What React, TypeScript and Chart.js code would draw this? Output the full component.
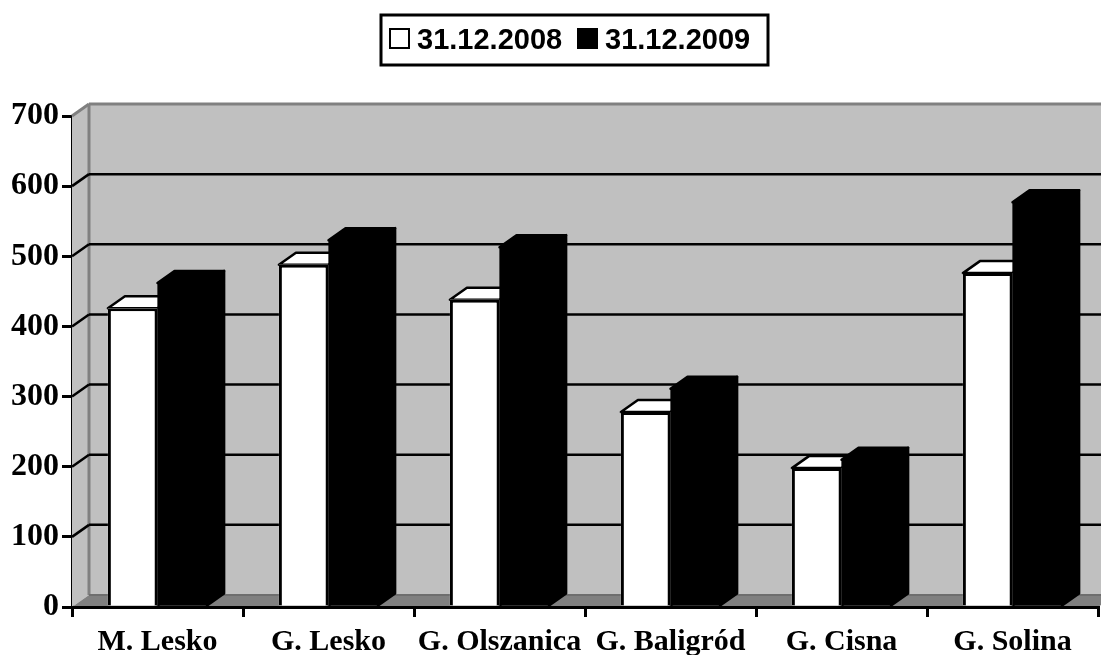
import React, { useEffect, useRef } from "react";
import { Chart, registerables } from "chart.js";

Chart.register(...registerables);

const categories = ["M. Lesko", "G. Lesko", "G. Olszanica", "G. Baligród", "G. Cisna", "G. Solina"];
const series2008 = [426, 488, 438, 278, 198, 476];
const series2009 = [462, 523, 513, 311, 210, 577];
const seriesNames = ["31.12.2008", "31.12.2009"];
const yTicks = [0, 100, 200, 300, 400, 500, 600, 700];

const DX = 17;
const DY = -12;
const WALL = "#C0C0C0";
const DARK = "#808080";

function poly(ctx: CanvasRenderingContext2D, pts: number[][], fill: string | null, stroke: string | null, lw = 3) {
  ctx.beginPath();
  pts.forEach((p, i) => (i ? ctx.lineTo(p[0], p[1]) : ctx.moveTo(p[0], p[1])));
  ctx.closePath();
  if (fill) {
    ctx.fillStyle = fill;
    ctx.fill();
  }
  if (stroke) {
    ctx.strokeStyle = stroke;
    ctx.lineWidth = lw;
    ctx.lineJoin = "round";
    ctx.stroke();
  }
}

function line(ctx: CanvasRenderingContext2D, x1: number, y1: number, x2: number, y2: number, color: string, lw: number) {
  ctx.beginPath();
  ctx.moveTo(x1, y1);
  ctx.lineTo(x2, y2);
  ctx.strokeStyle = color;
  ctx.lineWidth = lw;
  ctx.stroke();
}

const walls3d = {
  id: "walls3d",
  beforeDatasetsDraw(chart: any) {
    const { ctx, chartArea: a, scales } = chart;
    const y = scales.y;
    const { left: l, right: r, top: t, bottom: b } = a;
    ctx.save();
    poly(ctx, [[l + DX, t + DY], [r + DX, t + DY], [r + DX, b + DY], [l + DX, b + DY]], WALL, null);
    poly(ctx, [[l, t], [l + DX, t + DY], [l + DX, b + DY], [l, b]], WALL, null);
    poly(ctx, [[l, b], [l + DX, b + DY], [r + DX, b + DY], [r, b]], DARK, null);
    line(ctx, l + DX, t + DY, l + DX, b + DY, DARK, 3);
    line(ctx, l, t, l + DX, t + DY, DARK, 3);
    line(ctx, l + DX, t + DY, r + DX, t + DY, DARK, 3);
    line(ctx, l + DX, b + DY, r + DX, b + DY, "#6E6E6E", 2);
    yTicks.slice(1, -1).forEach((v) => {
      const py = y.getPixelForValue(v);
      line(ctx, l, py, l + DX, py + DY, "#000", 2.5);
      line(ctx, l + DX, py + DY, r + DX, py + DY, "#000", 2.5);
    });
    chart.data.datasets.forEach((ds: any, di: number) => {
      const meta = chart.getDatasetMeta(di);
      meta.data.forEach((el: any) => {
        const p = el.getProps(["x", "y", "base", "width"], true);
        const x0 = p.x - p.width / 2;
        const x1 = p.x + p.width / 2;
        poly(ctx, [[x1, p.y], [x1 + DX, p.y + DY], [x1 + DX, p.base + DY], [x1, p.base]], ds.backgroundColor, "#000", 2.5);
        poly(ctx, [[x0, p.y], [x0 + DX, p.y + DY], [x1 + DX, p.y + DY], [x1, p.y]], ds.backgroundColor, "#000", 2.5);
        poly(ctx, [[x0, p.y], [x1, p.y], [x1, p.base], [x0, p.base]], ds.backgroundColor, null);
      });
    });
    ctx.restore();
  },
};

const boxedLegend = {
  id: "boxedLegend",
  afterDraw(chart: any) {
    const { ctx } = chart;
    ctx.save();
    ctx.fillStyle = "#fff";
    ctx.strokeStyle = "#000";
    ctx.lineWidth = 3;
    ctx.fillRect(381, 15, 387, 50);
    ctx.strokeRect(381, 15, 387, 50);
    ctx.font = 'bold 29px "Liberation Sans"';
    ctx.textBaseline = "alphabetic";
    const boxes = [390, 578];
    chart.data.datasets.forEach((ds: any, i: number) => {
      ctx.fillStyle = ds.backgroundColor;
      ctx.strokeStyle = "#000";
      ctx.lineWidth = 2;
      ctx.fillRect(boxes[i], 29, 19, 19);
      ctx.strokeRect(boxes[i], 29, 19, 19);
      ctx.fillStyle = "#000";
      ctx.fillText(ds.label, boxes[i] + 27, 49);
    });
    ctx.restore();
  },
};

export default function App() {
  const ref = useRef<HTMLCanvasElement>(null);
  useEffect(() => {
    document.body.style.margin = "0";
    document.body.style.overflow = "hidden";
    const chart = new Chart(ref.current as HTMLCanvasElement, {
      type: "bar",
      data: {
        labels: categories,
        datasets: [
          { label: seriesNames[0], data: series2008, backgroundColor: "#FFFFFF", borderColor: "#000000", borderWidth: 3, borderSkipped: "bottom" },
          { label: seriesNames[1], data: series2009, backgroundColor: "#000000", borderColor: "#000000", borderWidth: 3, borderSkipped: "bottom" },
        ],
      },
      options: {
        responsive: false,
        animation: false,
        devicePixelRatio: 1,
        layout: { padding: { top: 116, right: 3, left: 0, bottom: 0 } },
        datasets: { bar: { barPercentage: 1, categoryPercentage: 0.58 } },
        plugins: { legend: { display: false }, title: { display: false }, tooltip: { enabled: false } },
        scales: {
          x: {
            afterFit: (s: any) => {
              s.height = 48;
            },
            border: { color: "#000", width: 3, z: 1 },
            grid: { drawOnChartArea: false, drawTicks: true, color: "#000", tickColor: "#000", lineWidth: 3, tickLength: 10, offset: true },
            ticks: {
              autoSkip: false,
              maxRotation: 0,
              minRotation: 0,
              padding: 7,
              color: "#000",
              font: { family: '"Liberation Serif"', weight: "bold", size: 30 },
            },
          },
          y: {
            min: 0,
            max: 700,
            afterFit: (s: any) => {
              s.width = 72;
            },
            border: { color: "#000", width: 3 },
            grid: { drawOnChartArea: false, drawTicks: true, color: "#000", tickColor: "#000", lineWidth: 3, tickLength: 10 },
            ticks: {
              stepSize: 100,
              padding: 3,
              color: "#000",
              font: { family: '"Liberation Serif"', weight: "bold", size: 32 },
            },
          },
        },
      } as any,
      plugins: [walls3d, boxedLegend],
    });
    return () => chart.destroy();
  }, []);
  return <canvas ref={ref} width={1101} height={655} style={{ display: "block" }} />;
}
